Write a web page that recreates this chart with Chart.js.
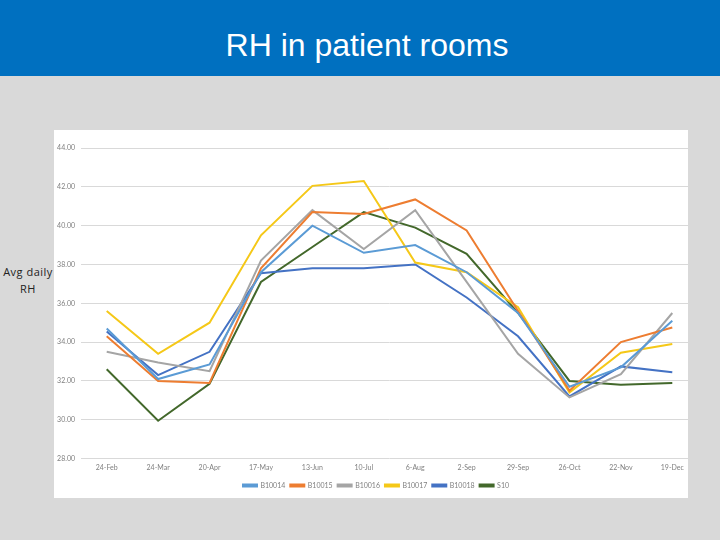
<!DOCTYPE html>
<html>
<head>
<meta charset="utf-8">
<script src="https://cdn.jsdelivr.net/npm/chart.js@4"></script>
<style>
    html, body { margin: 0; padding: 0; }
    body { width: 720px; height: 540px; background: #d9d9d9; position: relative; overflow: hidden; }
    #header { position: absolute; left: 0; top: 0; width: 720px; height: 76px; background: #0070c0; }
    #title { position: absolute; left: 0; top: 27px; width: 734px; text-align: center; color: #ffffff;
             font-family: "Liberation Sans", Arial, sans-serif; font-size: 32px; line-height: 36px; }
    #ylabel { position: absolute; left: 0; top: 263px; width: 56px; text-align: center; color: #222;
              font-family: "Open Sans", Lato, sans-serif; font-size: 11px; line-height: 17px; letter-spacing: 0.5px; }
    #panel { position: absolute; left: 54px; top: 130px; width: 634px; height: 368px; background: #ffffff; overflow: hidden; }
    #chart { position: absolute; left: 0; top: 0; }
</style>
</head>
<body>
<div id="header"></div>
<div id="title">RH in patient rooms</div>
<div id="ylabel">Avg daily<br>RH</div>
<div id="panel"><canvas id="chart" width="644" height="369"></canvas></div>

<script>
// categories and series
var dates = ['24-Feb', '24-Mar', '20-Apr', '17-May', '13-Jun', '10-Jul', '6-Aug', '2-Sep', '29-Sep', '26-Oct', '22-Nov', '19-Dec'];
var b10014 = [34.7, 32.1, 32.85, 37.6, 40.0, 38.6, 39.0, 37.6, 35.5, 31.7, 32.7, 35.1];
var b10015 = [34.3, 32.0, 31.9, 37.8, 40.7, 40.6, 41.35, 39.75, 35.6, 31.5, 34.0, 34.75];
var b10016 = [33.5, 32.95, 32.5, 38.2, 40.8, 38.8, 40.8, 37.1, 33.4, 31.15, 32.35, 35.5];
var b10017 = [35.6, 33.4, 35.0, 39.5, 42.05, 42.3, 38.1, 37.6, 35.8, 31.4, 33.45, 33.9];
var b10018 = [34.55, 32.3, 33.5, 37.55, 37.8, 37.8, 38.0, 36.3, 34.3, 31.2, 32.75, 32.45];
var s10 = [32.6, 29.95, 31.85, 37.1, 38.9, 40.7, 39.9, 38.55, 35.5, 32.0, 31.8, 31.9];
var seriesNames = ['B10014', 'B10015', 'B10016', 'B10017', 'B10018', 'S10'];
var yTicks = [28, 30, 32, 34, 36, 38, 40, 42, 44];

var colors = ['#5b9bd5', '#ed7d31', '#a5a5a5', '#f5c818', '#4472c4', '#43682b'];
var allSeries = [b10014, b10015, b10016, b10017, b10018, s10];

function makeDataset(i) {
    return {
        label: seriesNames[i],
        data: allSeries[i],
        borderColor: colors[i],
        backgroundColor: colors[i],
        borderWidth: 2,
        pointRadius: 0,
        tension: 0,
        fill: false
    };
}

var sets = [];
for (var i = 0; i < allSeries.length; i++) {
    sets.push(makeDataset(i));
}

var tickFont = {size: 7, family: 'Lato'};

new Chart(document.getElementById('chart').getContext('2d'), {
    type: 'line',
    data: {labels: dates, datasets: sets},
    options: {
        responsive: false,
        animation: false,
        layout: {padding: {top: 18, left: 0, right: 0, bottom: 0}},
        plugins: {
            title: {display: false},
            tooltip: {enabled: false},
            legend: {
                position: 'bottom',
                labels: {
                    color: '#7f7f7f',
                    font: tickFont,
                    boxWidth: 14,
                    boxHeight: 2,
                    padding: 5
                }
            }
        },
        scales: {
            y: {
                min: yTicks[0],
                max: yTicks[yTicks.length - 1],
                afterBuildTicks: function (scale) {
                    scale.ticks = yTicks.map(function (v) { return {value: v}; });
                },
                afterFit: function (scale) { scale.width = 27; },
                border: {display: false},
                grid: {color: '#d9d9d9', drawTicks: false},
                ticks: {
                    color: '#7f7f7f',
                    font: tickFont,
                    padding: 6,
                    callback: function (v) { return Number(v).toFixed(2); }
                }
            },
            x: {
                offset: true,
                border: {display: false},
                grid: {display: false, drawTicks: false},
                ticks: {color: '#7f7f7f', font: tickFont, maxRotation: 0, padding: 5}
            }
        }
    }
});
</script>
</body>
</html>
